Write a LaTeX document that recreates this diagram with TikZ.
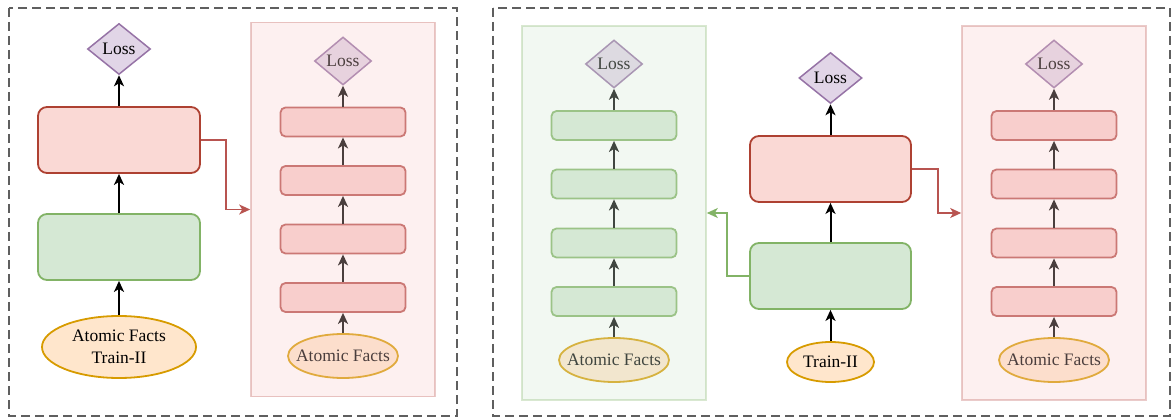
\documentclass[tikz,border=0pt]{standalone}
\usepackage{fontspec}
\setmainfont{Liberation Serif}
\usetikzlibrary{shapes.geometric,arrows.meta}
\definecolor{redD}{HTML}{AE4132}
\definecolor{redF}{HTML}{FAD9D5}
\definecolor{rosD}{HTML}{B85450}
\definecolor{rosF}{HTML}{F8CECC}
\definecolor{grnD}{HTML}{82B366}
\definecolor{grnF}{HTML}{D5E8D4}
\definecolor{purD}{HTML}{9673A6}
\definecolor{purF}{HTML}{E1D5E7}
\definecolor{orgD}{HTML}{D79B00}
\definecolor{orgF}{HTML}{FFE6CC}
\definecolor{frameC}{HTML}{5F5F5F}
\begin{document}
\begin{tikzpicture}[x=1pt,y=-1pt,
  every node/.style={font=\fontsize{17.5}{22}\selectfont, inner sep=0pt},
  lossnode/.style={diamond, draw=purD, fill=purF, line width=1.5pt,
    minimum width=63, minimum height=51},
  smallloss/.style={lossnode, minimum width=57, minimum height=48},
  bigbox/.style={rectangle, rounded corners=9pt, line width=1.8pt,
    minimum width=162, minimum height=66},
  redbig/.style={bigbox, draw=redD, fill=redF},
  greenbig/.style={bigbox, draw=grnD, fill=grnF},
  layerbox/.style={rectangle, rounded corners=5pt, line width=1.8pt,
    minimum width=125, minimum height=29},
  redlayer/.style={layerbox, draw=rosD, fill=rosF},
  greenlayer/.style={layerbox, draw=grnD, fill=grnF},
  inputnode/.style={ellipse, draw=orgD, fill=orgF, line width=1.8pt},
  smallinput/.style={inputnode, minimum width=110, minimum height=44},
  stackarrow/.style={-{Stealth[length=11pt,width=10pt,inset=3pt]}, line width=2pt, color=black},
  redlink/.style={-{Stealth[length=11pt,width=10pt,inset=3pt]}, line width=1.6pt, color=rosD},
  greenlink/.style={-{Stealth[length=11pt,width=10pt,inset=3pt]}, line width=1.6pt, color=grnD},
  panelbox/.style={rectangle, line width=1.6pt, minimum width=184, minimum height=374,
    draw opacity=0.3, fill opacity=0.3},
  dashframe/.style={draw=frameC, line width=1.3pt, dash pattern=on 9pt off 5pt},
]
\useasboundingbox (0,0) rectangle (1172,419);

% outer dashed frames
\draw[dashframe] (9,8) rectangle (457,416);
\draw[dashframe] (493,8) rectangle (1170,416);

% ---------- left part: model ----------
\node[lossnode] (lL) at (119,49) {Loss};
\node[redbig] (lR) at (119,140) {};
\node[greenbig] (lG) at (119,247) {};
\node[inputnode, minimum width=154, minimum height=62, align=center] (lA) at (119,347)
  {Atomic Facts\\Train-II};
\draw[stackarrow] (lA) -- (lG);
\draw[stackarrow] (lG) -- (lR);
\draw[stackarrow] (lR) -- (lL);

% left stack of red layers
\node[smallloss] (pL) at (343,61) {Loss};
\node[redlayer] (p1) at (343,122) {};
\node[redlayer] (p2) at (343,180.5) {};
\node[redlayer] (p3) at (343,239) {};
\node[redlayer] (p4) at (343,297.5) {};
\node[smallinput] (pA) at (343,356) {\makebox[0pt]{Atomic Facts}};
\draw[stackarrow] (pA) -- (p4);
\draw[stackarrow] (p4) -- (p3);
\draw[stackarrow] (p3) -- (p2);
\draw[stackarrow] (p2) -- (p1);
\draw[stackarrow] (p1) -- (pL);
\node[panelbox, draw=rosD, fill=rosF] (lP) at (343,209.5) {};

\draw[redlink] (lR.east) -- ++(25,0) |- (lP.west);

% ---------- right part: green stack ----------
\node[smallloss] (gL) at (614,64) {Loss};
\node[greenlayer] (g1) at (614,125.5) {};
\node[greenlayer] (g2) at (614,184) {};
\node[greenlayer] (g3) at (614,243) {};
\node[greenlayer] (g4) at (614,301.5) {};
\node[smallinput] (gA) at (614,360) {\makebox[0pt]{Atomic Facts}};
\draw[stackarrow] (gA) -- (g4);
\draw[stackarrow] (g4) -- (g3);
\draw[stackarrow] (g3) -- (g2);
\draw[stackarrow] (g2) -- (g1);
\draw[stackarrow] (g1) -- (gL);
\node[panelbox, draw=grnD, fill=grnF] (gP) at (614,213) {};

% ---------- right part: red stack ----------
\node[smallloss] (qL) at (1054,64) {Loss};
\node[redlayer] (q1) at (1054,125.5) {};
\node[redlayer] (q2) at (1054,184) {};
\node[redlayer] (q3) at (1054,243) {};
\node[redlayer] (q4) at (1054,301.5) {};
\node[smallinput] (qA) at (1054,360) {\makebox[0pt]{Atomic Facts}};
\draw[stackarrow] (qA) -- (q4);
\draw[stackarrow] (q4) -- (q3);
\draw[stackarrow] (q3) -- (q2);
\draw[stackarrow] (q2) -- (q1);
\draw[stackarrow] (q1) -- (qL);
\node[panelbox, draw=rosD, fill=rosF] (qP) at (1054,213) {};

% ---------- right part: model ----------
\node[lossnode] (mL) at (830.5,78) {Loss};
\node[redbig, minimum width=161] (mR) at (830.5,169) {};
\node[greenbig, minimum width=161] (mG) at (830.5,276) {};
\node[inputnode, minimum width=87, minimum height=40] (mA) at (830.5,362) {Train-II};
\draw[stackarrow] (mA) -- (mG);
\draw[stackarrow] (mG) -- (mR);
\draw[stackarrow] (mR) -- (mL);

\draw[redlink] (mR.east) -- ++(26,0) |- (qP.west);
\draw[greenlink] (mG.west) -- ++(-22,0) |- (gP.east);
\end{tikzpicture}
\end{document}
